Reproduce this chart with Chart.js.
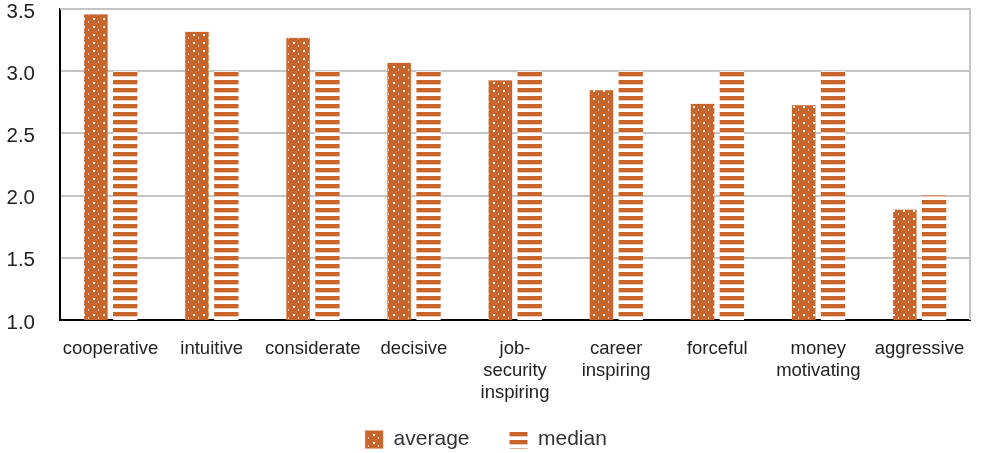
<!DOCTYPE html>
<html>
<head>
<meta charset="utf-8">
<script src="https://cdn.jsdelivr.net/npm/chart.js@4"></script>
<style>
  html, body { margin: 0; padding: 0; background: #fff; }
  #wrap { width: 986px; height: 453px; }
</style>
</head>
<body>
<div id="wrap"><canvas id="myChart" width="986" height="453"></canvas></div>
<script>
const categories = [
  "cooperative", "intuitive", "considerate", "decisive",
  ["job-", "security", "inspiring"], ["career", "inspiring"],
  "forceful", ["money", "motivating"], "aggressive"
];
const averageValues = [3.46, 3.32, 3.27, 3.07, 2.93, 2.85, 2.74, 2.73, 1.89];
const medianValues = [3, 3, 3, 3, 3, 3, 3, 3, 2];
const yTicks = [1.0, 1.5, 2.0, 2.5, 3.0, 3.5];

const ORANGE = "#c9652b";
const FONT = "Liberation Sans";

// dotted fill for the average bars
function dotPattern() {
  const c = document.createElement("canvas");
  c.width = 10; c.height = 8;
  const g = c.getContext("2d");
  g.fillStyle = ORANGE;
  g.fillRect(0, 0, 10, 8);
  g.fillStyle = "#ffffff";
  g.fillRect(3, 2, 2, 2);
  g.fillStyle = "rgba(255,255,255,0.7)";
  g.fillRect(8, 5, 1, 2);
  return g.createPattern(c, "repeat");
}

// horizontal stripes for the median bars
function stripePattern() {
  const c = document.createElement("canvas");
  c.width = 8; c.height = 8;
  const g = c.getContext("2d");
  g.fillStyle = "#ffffff";
  g.fillRect(0, 0, 8, 8);
  g.fillStyle = ORANGE;
  g.fillRect(0, 0, 8, 4);
  g.fillStyle = "rgba(201,101,43,0.35)";
  g.fillRect(0, 4, 8, 1);
  return g.createPattern(c, "repeat");
}

const dots = dotPattern();
const stripes = stripePattern();

// grey frame on the top and right of the plot area
const frame = {
  id: "frame",
  beforeDatasetsDraw(chart) {
    const a = chart.chartArea, ctx = chart.ctx;
    ctx.save();
    ctx.strokeStyle = "#c4c4c4";
    ctx.lineWidth = 2;
    ctx.beginPath();
    ctx.moveTo(a.left, a.top);
    ctx.lineTo(a.right, a.top);
    ctx.lineTo(a.right, a.bottom);
    ctx.stroke();
    ctx.restore();
  }
};

// legend keeps wide gaps between items but takes less height
const legendBox = {
  id: "legendBox",
  afterInit(chart) {
    const legend = chart.legend;
    const fit = legend.fit;
    legend.fit = function () {
      fit.call(this);
      this.height = 48;
    };
  },
  afterLayout(chart) {
    chart.legend.top -= 16;
  }
};

const ctx = document.getElementById("myChart");

new Chart(ctx, {
  type: "bar",
  data: {
    labels: categories,
    datasets: [
      {
        label: "average",
        data: averageValues,
        backgroundColor: dots,
        borderColor: "rgba(230,160,120,0.8)",
        borderWidth: 0.5,
        categoryPercentage: 0.58,
        barPercentage: 0.83,
      },
      {
        label: "median",
        data: medianValues,
        backgroundColor: stripes,
        categoryPercentage: 0.58,
        barPercentage: 0.83,
      },
    ],
  },
  plugins: [frame, legendBox],
  options: {
    responsive: false,
    maintainAspectRatio: false,
    animation: false,
    layout: { padding: { left: 2, right: 16, top: 0, bottom: 0 } },
    plugins: {
      legend: {
        position: "bottom",
        labels: {
          boxWidth: 18,
          boxHeight: 18,
          padding: 40,
          color: "#333",
          font: { family: FONT, size: 21 },
        },
      },
      tooltip: { enabled: false },
    },
    scales: {
      x: {
        grid: { display: false, drawTicks: false },
        border: { color: "#000", width: 2 },
        afterFit(axis) {
          axis.height = 85;
          axis.paddingLeft = 0;
          axis.paddingRight = 0;
        },
        ticks: {
          color: "#222",
          padding: 18,
          maxRotation: 0,
          autoSkip: false,
          font: { family: FONT, size: 18.5, lineHeight: 1.19 },
        },
      },
      y: {
        min: 1,
        max: 3.5,
        afterFit(axis) {
          axis.width = 58;
          axis.paddingTop = 9;
          axis.paddingBottom = 0;
        },
        afterBuildTicks(axis) {
          axis.ticks = yTicks.map(v => ({ value: v }));
        },
        grid: { color: "#c4c4c4", lineWidth: 2, drawTicks: false },
        border: { color: "#000", width: 2 },
        ticks: {
          color: "#222",
          padding: 25,
          labelOffset: 3,
          callback: v => v.toFixed(1),
          font: { family: FONT, size: 20.5 },
        },
      },
    },
  },
});
</script>
</body>
</html>
